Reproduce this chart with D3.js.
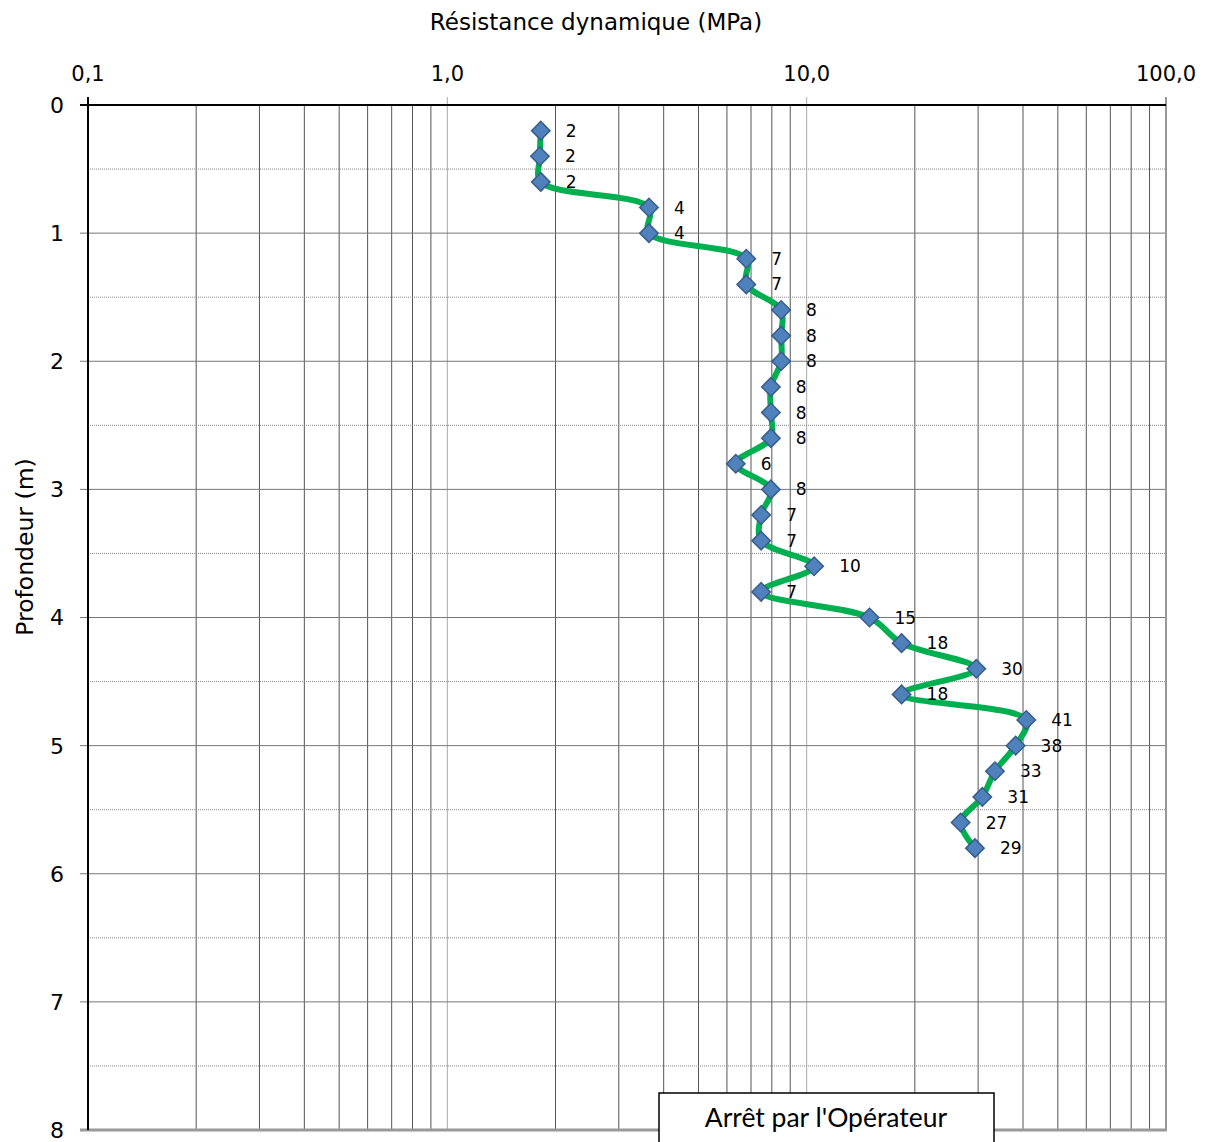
<!DOCTYPE html>
<html lang="fr">
<head>
  <meta charset="UTF-8">
  <title>Pénétromètre dynamique</title>
  <script src="https://d3js.org/d3.v7.min.js"></script>
  <style>
    body { margin: 0; background: #fff; }
    text { font-family: "DejaVu Sans", Verdana, sans-serif; fill: #000; }
    .pt-label { font-size: 17px; }
  </style>
</head>
<body>
  <div id="chart"></div>
  <script>
    // depth (m) and dynamic resistance (MPa)
    const depths = [0.2, 0.4, 0.6, 0.8, 1.0, 1.2, 1.4, 1.6, 1.8, 2.0, 2.2, 2.4, 2.6, 2.8, 3.0,
      3.2, 3.4, 3.6, 3.8, 4.0, 4.2, 4.4, 4.6, 4.8, 5.0, 5.2, 5.4, 5.6, 5.8];
    const resistance = [1.82, 1.81, 1.82, 3.64, 3.64, 6.79, 6.79, 8.49, 8.49, 8.49, 7.95, 7.95, 7.95, 6.35, 7.95,
      7.47, 7.47, 10.49, 7.47, 14.96, 18.37, 29.65, 18.37, 40.85, 38.15, 33.42, 30.82, 26.82, 29.4];
    const xTicks = [0.1, 1, 10, 100];
    const yTicks = [0, 1, 2, 3, 4, 5, 6, 7, 8];
    const note = "Arrêt par l'Opérateur";

    const width = 1208, height = 1142;
    const margin = { top: 105, right: 42, bottom: 12, left: 88 };

    const svg = d3.select("#chart").append("svg")
      .attr("width", width)
      .attr("height", height);

    const x = d3.scaleLog().domain([0.1, 100]).range([margin.left, width - margin.right]);
    const y = d3.scaleLinear().domain([0, 8]).range([margin.top, height - margin.bottom]);

    const data = depths.map((d, i) => ({ depth: d, value: resistance[i] }));

    // vertical grid: minor (2..9 in each decade) then decades
    const minor = [];
    for (let dec = 0.1; dec < 100; dec *= 10) {
      for (let k = 2; k <= 9; k++) minor.push(+(dec * k).toPrecision(3));
    }
    svg.append("g").selectAll("line")
      .data(minor)
      .join("line")
      .attr("x1", d => x(d)).attr("x2", d => x(d))
      .attr("y1", y(0)).attr("y2", y(8))
      .attr("stroke", "#555").attr("stroke-width", 1);

    svg.append("g").selectAll("line")
      .data(xTicks.slice(1, -1))
      .join("line")
      .attr("x1", d => x(d)).attr("x2", d => x(d))
      .attr("y1", y(0) - 8).attr("y2", y(8))
      .attr("stroke", "#aaa").attr("stroke-width", 1);

    // horizontal grid: solid at metres, dotted at half metres
    svg.append("g").selectAll("line")
      .data(yTicks.slice(1, -1))
      .join("line")
      .attr("x1", x(0.1) - 8).attr("x2", x(100))
      .attr("y1", d => y(d)).attr("y2", d => y(d))
      .attr("stroke", "#777").attr("stroke-width", 1);

    svg.append("g").selectAll("line")
      .data(d3.range(0.5, 8, 1))
      .join("line")
      .attr("x1", x(0.1)).attr("x2", x(100))
      .attr("y1", d => y(d)).attr("y2", d => y(d))
      .attr("stroke", "#888").attr("stroke-width", 1)
      .attr("stroke-dasharray", "1,1");

    // frame
    svg.append("line").attr("x1", x(100)).attr("x2", x(100)).attr("y1", y(0) - 8).attr("y2", y(8))
      .attr("stroke", "#999").attr("stroke-width", 2);
    svg.append("line").attr("x1", x(0.1) - 8).attr("x2", x(100) + 1).attr("y1", y(8)).attr("y2", y(8))
      .attr("stroke", "#999").attr("stroke-width", 3);
    svg.append("line").attr("x1", x(0.1) - 8).attr("x2", x(100)).attr("y1", y(0)).attr("y2", y(0))
      .attr("stroke", "#000").attr("stroke-width", 2);
    svg.append("line").attr("x1", x(0.1)).attr("x2", x(0.1)).attr("y1", y(0) - 8).attr("y2", y(8))
      .attr("stroke", "#000").attr("stroke-width", 2);

    // axes labels
    const fmt = d => d.toFixed(1).replace(".", ",");
    svg.append("g").selectAll("text")
      .data(xTicks)
      .join("text")
      .attr("x", d => x(d)).attr("y", 81)
      .attr("text-anchor", "middle")
      .style("font-size", "21px")
      .text(fmt);

    svg.append("g").selectAll("text")
      .data(yTicks)
      .join("text")
      .attr("x", 64).attr("y", d => y(d))
      .attr("dy", "0.36em")
      .attr("text-anchor", "end")
      .style("font-size", "22px")
      .text(d => d);

    svg.append("text")
      .attr("x", 596).attr("y", 30)
      .attr("text-anchor", "middle")
      .style("font-size", "23px")
      .text("Résistance dynamique (MPa)");

    svg.append("text")
      .attr("transform", "translate(33,547) rotate(-90)")
      .attr("text-anchor", "middle")
      .style("font-size", "23.5px")
      .text("Profondeur (m)");

    // profile line
    const line = d3.line()
      .x(d => x(d.value))
      .y(d => y(d.depth))
      .curve(d3.curveCatmullRom.alpha(0.5));

    svg.append("path")
      .datum(data)
      .attr("d", line)
      .attr("fill", "none")
      .attr("stroke", "#00b050")
      .attr("stroke-width", 6)
      .attr("stroke-linejoin", "round");

    const diamond = d3.symbol().type(d3.symbolSquare).size(170);
    svg.append("g").selectAll("path")
      .data(data)
      .join("path")
      .attr("d", diamond)
      .attr("transform", d => `translate(${x(d.value)},${y(d.depth)}) rotate(45)`)
      .attr("fill", "#4f81bd")
      .attr("stroke", "#385d8a")
      .attr("stroke-width", 1.5);

    svg.append("g").selectAll("text")
      .data(data)
      .join("text")
      .attr("class", "pt-label")
      .attr("x", d => x(d.value) + 25)
      .attr("y", d => y(d.depth))
      .attr("dy", "0.36em")
      .text(d => Math.round(d.value));

    // operator stop note
    const note_g = svg.append("g");
    note_g.append("rect")
      .attr("x", 659).attr("y", 1093)
      .attr("width", 335).attr("height", 60)
      .attr("fill", "#fff")
      .attr("stroke", "#000")
      .attr("stroke-width", 1.5);
    note_g.append("text")
      .attr("x", 826).attr("y", 1127)
      .attr("text-anchor", "middle")
      .style("font-family", "Lato, 'Open Sans', sans-serif")
      .style("font-size", "26.5px")
      .text(note);
  </script>
</body>
</html>
